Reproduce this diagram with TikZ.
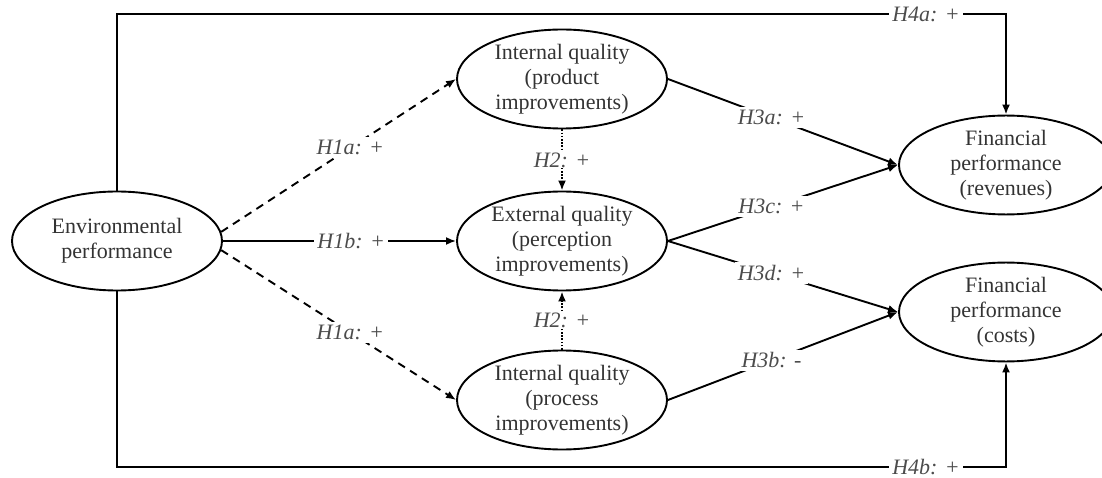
\documentclass[tikz,border=0pt]{standalone}
\usepackage{fontspec}
\setmainfont{Liberation Serif}
\usetikzlibrary{shapes.geometric,arrows.meta}

\begin{document}
\begin{tikzpicture}[x=1pt, y=-1pt,
  construct/.style={ellipse, draw, line width=1.9pt, inner sep=0pt,
    minimum width=210pt, minimum height=99pt, align=center, text=black!80,
    font=\fontsize{22}{25}\selectfont},
  link/.style={line width=1.9pt, -{Latex[length=10pt,width=8pt]}},
  hyp/.style={fill=white, inner sep=3pt, text=black!70,
    font=\fontsize{22}{25}\selectfont\itshape},
  dashlink/.style={link, dash pattern=on 8pt off 6pt},
  dotlink/.style={link, dash pattern=on 1.6pt off 1.6pt}]
  \useasboundingbox (0,0) rectangle (1102,478);

  % constructs
  \node[construct] (env)  at (117,241)  {Environmental\\performance};
  \node[construct] (prod) at (562,79)   {Internal quality\\(product\\improvements)};
  \node[construct] (ext)  at (562,241)  {External quality\\(perception\\improvements)};
  \node[construct] (proc) at (562,400)  {Internal quality\\(process\\improvements)};
  \node[construct, minimum width=214pt, minimum height=95pt] (rev)  at (1006,165) {Financial\\performance\\(revenues)};
  \node[construct, minimum width=214pt, minimum height=97pt] (cost) at (1006,312) {Financial\\performance\\(costs)};

  \coordinate (top) at (0,14);
  \coordinate (bot) at (0,467);

  % H1 and H2
  \draw[dashlink] (env.5) -- node[hyp, pos=0.55] {H1a: +} (prod.west);
  \draw[link] (env.east) -- node[hyp, pos=0.55] {H1b: +} (ext.west);
  \draw[dashlink] (env.-5) -- node[hyp, pos=0.55] {H1a: +} (proc.west);
  \draw[dotlink] (prod.south) -- node[hyp, inner sep=1pt] {H2: +} (ext.north);
  \draw[dotlink] (proc.north) -- node[hyp, inner sep=1pt] {H2: +} (ext.south);

  % H3
  \draw[link] (prod.east) -- node[hyp, pos=0.45] {H3a: +} (rev.west);
  \draw[link] (ext.east) -- node[hyp, pos=0.45] {H3c: +} (rev.west);
  \draw[link] (ext.east) -- node[hyp, pos=0.45] {H3d: +} (cost.west);
  \draw[link] (proc.east) -- node[hyp, pos=0.45] {H3b: -} (cost.west);

  % H4
  \draw[link] (env.north) -- (env.north |- top) -- node[hyp, pos=0.91] {H4a: +} (rev.north |- top) -- (rev.north);
  \draw[link] (env.south) -- (env.south |- bot) -- node[hyp, pos=0.91] {H4b: +} (cost.south |- bot) -- (cost.south);
\end{tikzpicture}
\end{document}
